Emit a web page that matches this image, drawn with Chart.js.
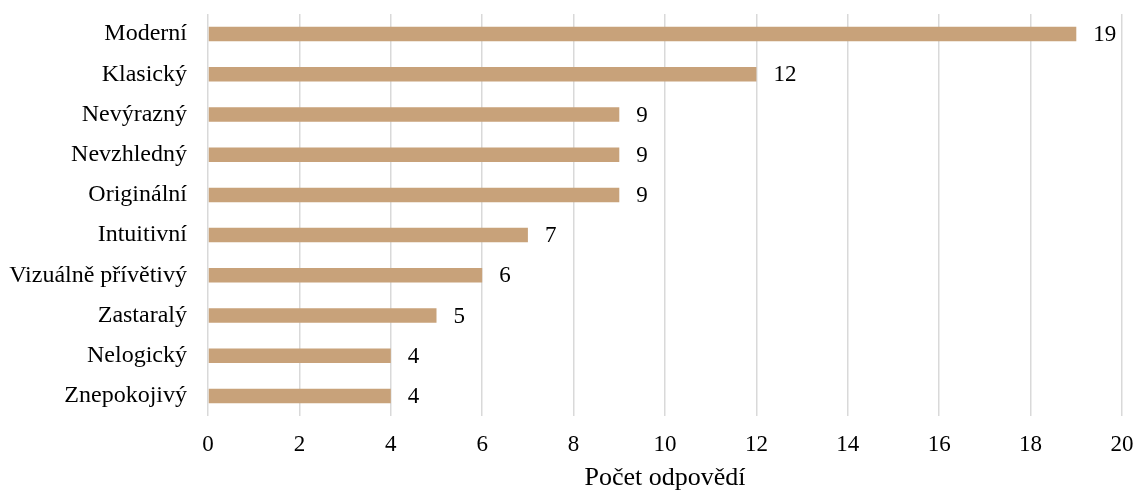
<!DOCTYPE html>
<html>
<head>
<meta charset="utf-8">
<script src="https://cdn.jsdelivr.net/npm/chart.js@4"></script>
<style>
  html, body { margin: 0; padding: 0; background: #fff; }
  #wrap { width: 1137px; height: 494px; }
</style>
</head>
<body>
<div id="wrap"><canvas id="chart"></canvas></div>
<script>
// Kategorie a počty odpovědí
const categories = [
  "Moderní", "Klasický", "Nevýrazný", "Nevzhledný", "Originální",
  "Intuitivní", "Vizuálně přívětivý", "Zastaralý", "Nelogický", "Znepokojivý"
];
const counts = [19, 12, 9, 9, 9, 7, 6, 5, 4, 4];
const xTicks = [0, 2, 4, 6, 8, 10, 12, 14, 16, 18, 20];

const FONT = "'Liberation Serif', 'Times New Roman', serif";
const BAR_COLOR = "#C8A27A";
const GRID_COLOR = "#D9D9D9";

// Popisky hodnot za koncem sloupců
const valueLabels = {
  id: "valueLabels",
  afterDatasetsDraw(chart) {
    const ctx = chart.ctx;
    const meta = chart.getDatasetMeta(0);
    ctx.save();
    ctx.font = "23px " + FONT;
    ctx.fillStyle = "#000";
    ctx.textAlign = "left";
    ctx.textBaseline = "middle";
    meta.data.forEach((bar, i) => {
      ctx.fillText(String(counts[i]), bar.x + 17, bar.y + 1);
    });
    ctx.restore();
  },
};

const ctx = document.getElementById("chart").getContext("2d");
new Chart(ctx, {
  type: "bar",
  data: {
    labels: categories,
    datasets: [
      {
        data: counts,
        backgroundColor: BAR_COLOR,
        borderWidth: 0,
        barPercentage: 0.36,
        categoryPercentage: 1,
      },
    ],
  },
  options: {
    indexAxis: "y",
    responsive: true,
    maintainAspectRatio: false,
    animation: false,
    layout: { padding: { top: 14, right: 15, bottom: 0, left: 0 } },
    plugins: {
      legend: { display: false },
      tooltip: { enabled: false },
    },
    scales: {
      x: {
        min: 0,
        max: 20,
        afterBuildTicks: (scale) => {
          scale.ticks = xTicks.map((v) => ({ value: v }));
        },
        afterFit: (scale) => {
          scale.height = 78;
          scale.paddingLeft = 0;
          scale.paddingRight = 0;
        },
        border: { display: false },
        grid: {
          color: GRID_COLOR,
          lineWidth: 1.5,
          drawTicks: false,
        },
        ticks: {
          color: "#000",
          padding: 15,
          font: { family: FONT, size: 23 },
        },
        title: {
          display: true,
          text: "Počet odpovědí",
          color: "#000",
          padding: { top: 2, bottom: 0 },
          font: { family: FONT, size: 26 },
        },
      },
      y: {
        afterFit: (scale) => {
          scale.width = 208;
          scale.paddingTop = 0;
          scale.paddingBottom = 0;
        },
        border: { display: false },
        grid: { display: false, drawTicks: false },
        ticks: {
          color: "#000",
          padding: 21,
          font: { family: FONT, size: 24 },
        },
      },
    },
  },
  plugins: [valueLabels],
});
</script>
</body>
</html>
